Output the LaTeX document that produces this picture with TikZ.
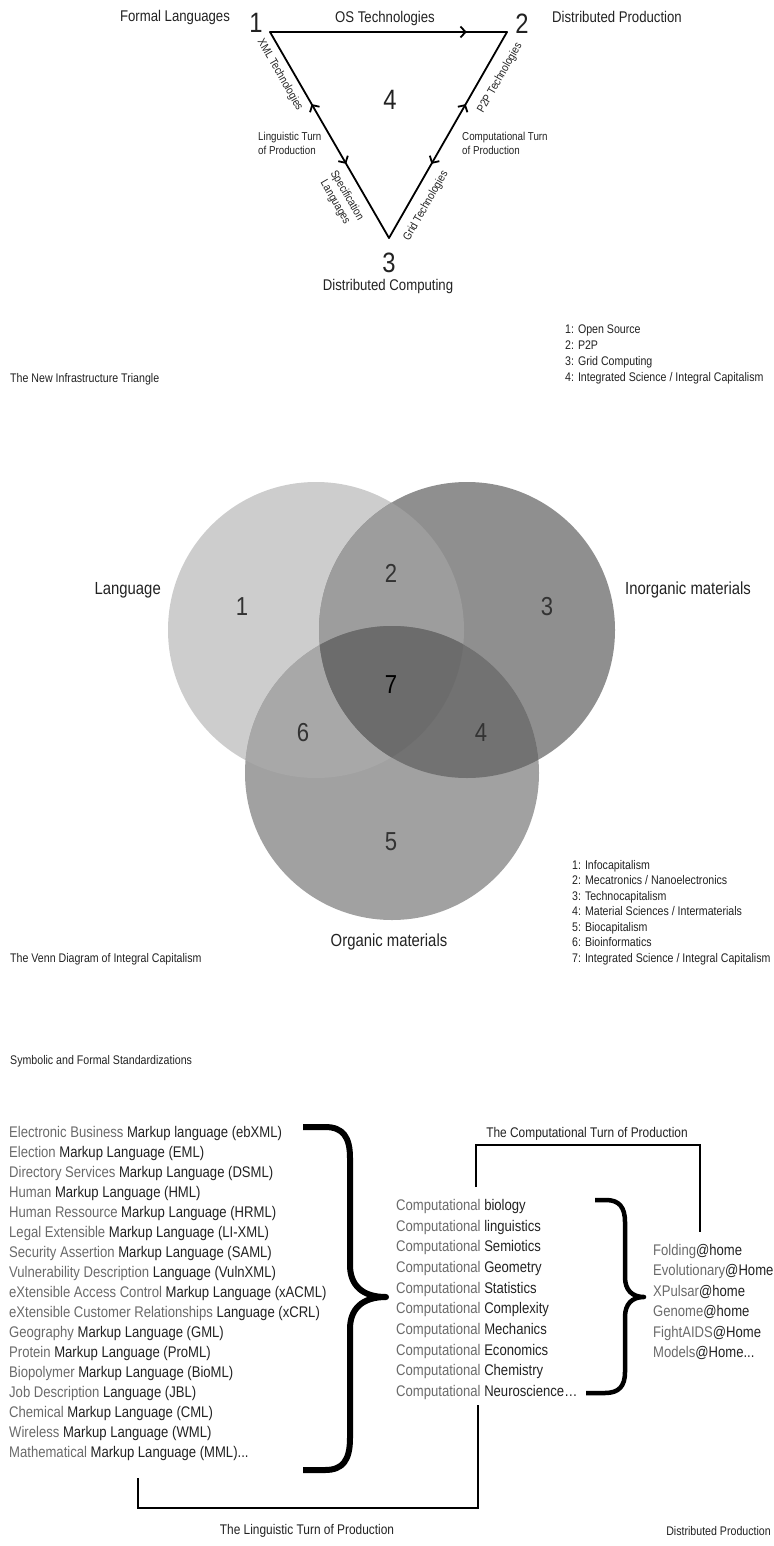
\documentclass[tikz,border=0pt]{standalone}
\usepackage{fontspec}
\setmainfont{Liberation Sans}[FakeStretch=0.85]
\usetikzlibrary{decorations.markings,arrows.meta}

\definecolor{ink}{HTML}{222222}
\definecolor{litegray}{HTML}{6A6A6A}
\definecolor{vennA}{HTML}{CDCDCD}
\definecolor{vennB}{HTML}{8F8F8F}
\definecolor{vennC}{HTML}{A1A1A1}
\definecolor{vennAB}{HTML}{9D9D9D}
\definecolor{vennAC}{HTML}{A8A8A8}
\definecolor{vennBC}{HTML}{727272}
\definecolor{vennABC}{HTML}{6C6C6C}

\newcommand{\lite}[1]{\textcolor{litegray}{#1}}

\tikzset{
  every node/.style={inner sep=0pt, text=ink},
  chev/.tip={Straight Barb[length=5pt,width=11pt]},
  triedge/.style={line width=1.8pt, line cap=round},
  topdeco/.style={postaction={decorate}, decoration={markings,
      mark=at position 0.83 with {\arrow{chev}}}},
  sidedeco/.style={postaction={decorate}, decoration={markings,
      mark=at position 0.35 with {\arrowreversed{chev}},
      mark=at position 0.64 with {\arrow{chev}}}},
  bigdigit/.style={font=\fontsize{28}{28}\selectfont},
  venndigit/.style={font=\fontsize{26}{26}\selectfont, text=black!80},
  toplabel/.style={font=\fontsize{15.5}{18}\selectfont},
  edgelabel/.style={font=\fontsize{11.5}{13.5}\selectfont},
  smalltext/.style={font=\fontsize{12.5}{16}\selectfont},
  vennlabel/.style={font=\fontsize{17.5}{20}\selectfont},
  listtext/.style={font=\fontsize{15.4}{20}\selectfont, align=left},
  bracketline/.style={line width=1.3pt},
  bracestroke/.style={line width=6pt, line join=round},
}

\begin{document}
\begin{tikzpicture}[x=1pt,y=-1pt]
\useasboundingbox (0,0) rectangle (773,1546);

% the new infrastructure triangle
\coordinate (v1) at (270,32);
\coordinate (v2) at (507,32);
\coordinate (v3) at (389,238);
\draw[triedge, topdeco] (v1) -- (v2);
\draw[triedge, sidedeco] (v1) -- (v3);
\draw[triedge, sidedeco] (v2) -- (v3);

\node[bigdigit] (n1) at (256,23) {1};
\node[bigdigit] (n2) at (522,24) {2};
\node[bigdigit] (n3) at (389,263) {3};
\node[bigdigit] (n4) at (390,100) {4};
\node[toplabel, anchor=base] (formal) at (175,22) {Formal Languages};
\node[toplabel, anchor=base] (ostech) at (385,23) {OS Technologies};
\node[toplabel, anchor=base west] (distprod) at (552,23) {Distributed Production};
\node[toplabel, anchor=base] (distcomp) at (388,290) {Distributed Computing};

\node[edgelabel, rotate=-60] (xmltech) at (280,75) {XML Technologies};
\node[edgelabel, rotate=-60, align=center] (speclang) at (341,199) {Specification\\Languages};
\node[edgelabel, rotate=60] (p2ptech) at (500,78) {P2P Technologies};
\node[edgelabel, rotate=60] (gridtech) at (426,206) {Grid Technologies};
\node[edgelabel, align=left, anchor=north west] (lingtri) at (258,132) {Linguistic Turn\\of Production};
\node[edgelabel, align=left, anchor=north west] (comptri) at (462,132) {Computational Turn\\of Production};

\node[smalltext, align=left, anchor=north west] (trilegend) at (565,325)
  {1: Open Source\\2: P2P\\3: Grid Computing\\4: Integrated Science / Integral Capitalism};
\node[smalltext, anchor=base west] (trititle) at (10,382) {The New Infrastructure Triangle};

% the venn diagram
\coordinate (lang) at (316,630);
\coordinate (inorg) at (467,630);
\coordinate (org) at (392,773);
\fill[vennA] (lang) circle (148pt);
\fill[vennB] (inorg) circle (148pt);
\begin{scope}
  \clip (lang) circle (148pt);
  \fill[vennAB] (inorg) circle (148pt);
\end{scope}
\fill[vennC] (org) circle (147pt);
\begin{scope}
  \clip (lang) circle (148pt);
  \fill[vennAC] (org) circle (147pt);
\end{scope}
\begin{scope}
  \clip (inorg) circle (148pt);
  \fill[vennBC] (org) circle (147pt);
\end{scope}
\begin{scope}
  \clip (lang) circle (148pt);
  \clip (inorg) circle (148pt);
  \fill[vennABC] (org) circle (147pt);
\end{scope}

\node[vennlabel, anchor=base east] (langlabel) at (161,594) {Language};
\node[vennlabel, anchor=base west] (inorglabel) at (625,594) {Inorganic materials};
\node[vennlabel, anchor=base] (orglabel) at (389,946) {Organic materials};
\node[venndigit] (r1) at (242,607) {1};
\node[venndigit] (r2) at (391,573) {2};
\node[venndigit] (r3) at (547,607) {3};
\node[venndigit, text=black] (r7) at (391,685) {7};
\node[venndigit] (r6) at (303,733) {6};
\node[venndigit] (r4) at (481,733) {4};
\node[venndigit] (r5) at (391,842) {5};

\node[smalltext, align=left, anchor=north west, font=\fontsize{12.5}{15.5}\selectfont] (vennlegend) at (572,860)
  {1: Infocapitalism\\2: Mecatronics / Nanoelectronics\\3: Technocapitalism\\4: Material Sciences / Intermaterials\\5: Biocapitalism\\6: Bioinformatics\\7: Integrated Science / Integral Capitalism};
\node[smalltext, anchor=base west] (venntitle) at (10,962) {The Venn Diagram of Integral Capitalism};

% standardizations
\node[smalltext, anchor=base west] (symtitle) at (10,1064) {Symbolic and Formal Standardizations};

\node[listtext, anchor=north west] (markup) at (9,1126)
  {\lite{Electronic Business} Markup language (ebXML)\\
   \lite{Election} Markup Language (EML)\\
   \lite{Directory Services} Markup Language (DSML)\\
   \lite{Human} Markup Language (HML)\\
   \lite{Human Ressource} Markup Language (HRML)\\
   \lite{Legal Extensible} Markup Language (LI-XML)\\
   \lite{Security Assertion} Markup Language (SAML)\\
   \lite{Vulnerability Description} Language (VulnXML)\\
   \lite{eXtensible Access Control} Markup Language (xACML)\\
   \lite{eXtensible Customer Relationships} Language (xCRL)\\
   \lite{Geography} Markup Language (GML)\\
   \lite{Protein} Markup Language (ProML)\\
   \lite{Biopolymer} Markup Language (BioML)\\
   \lite{Job Description} Language (JBL)\\
   \lite{Chemical} Markup Language (CML)\\
   \lite{Wireless} Markup Language (WML)\\
   \lite{Mathematical} Markup Language (MML)...};

\node[listtext, anchor=north west, font=\fontsize{15.4}{20.7}\selectfont] (compfields) at (396,1199)
  {\lite{Computational} biology\\
   \lite{Computational} linguistics\\
   \lite{Computational} Semiotics\\
   \lite{Computational} Geometry\\
   \lite{Computational} Statistics\\
   \lite{Computational} Complexity\\
   \lite{Computational} Mechanics\\
   \lite{Computational} Economics\\
   \lite{Computational} Chemistry\\
   \lite{Computational} Neuroscience…};

\node[listtext, anchor=north west, font=\fontsize{15.4}{20.5}\selectfont] (homes) at (653,1244)
  {\lite{Folding}@home\\
   \lite{Evolutionary}@Home\\
   \lite{XPulsar}@home\\
   \lite{Genome}@home\\
   \lite{FightAIDS}@Home\\
   \lite{Models}@Home...};

\draw[bracestroke] (303,1127) -- (325,1127) .. controls (343,1127) and (350,1137) .. (350,1158)
  -- (350,1265) .. controls (350,1285) and (362,1297) .. (386,1297)
  .. controls (362,1297) and (350,1309) .. (350,1329)
  -- (350,1438) .. controls (350,1460) and (343,1470) .. (325,1470) -- (303,1470);
\draw[bracestroke, line width=4.5pt] (595,1200) -- (606,1200) .. controls (619,1200) and (625,1207) .. (625,1222)
  -- (625,1277) .. controls (625,1290) and (632,1297) .. (644,1297)
  .. controls (632,1297) and (625,1304) .. (625,1317)
  -- (625,1372) .. controls (625,1386) and (619,1393) .. (605,1393) -- (586,1393);

\coordinate (compL) at (476,1187);
\coordinate (compR) at (700,1232);
\draw[bracketline] (compL) -- ++(0,-42) -| (compR);
\node[toplabel, anchor=base, font=\fontsize{14}{16}\selectfont] (compturn) at (587,1137) {The Computational Turn of Production};

\coordinate (lingL) at (138,1478);
\coordinate (lingR) at (478,1405);
\draw[bracketline] (lingL) -- ++(0,30) -| (lingR);
\node[toplabel, anchor=base, font=\fontsize{14}{16}\selectfont] (lingturn) at (307,1534) {The Linguistic Turn of Production};
\node[smalltext, anchor=base east] (distprodB) at (771,1535) {Distributed Production};
\end{tikzpicture}
\end{document}
